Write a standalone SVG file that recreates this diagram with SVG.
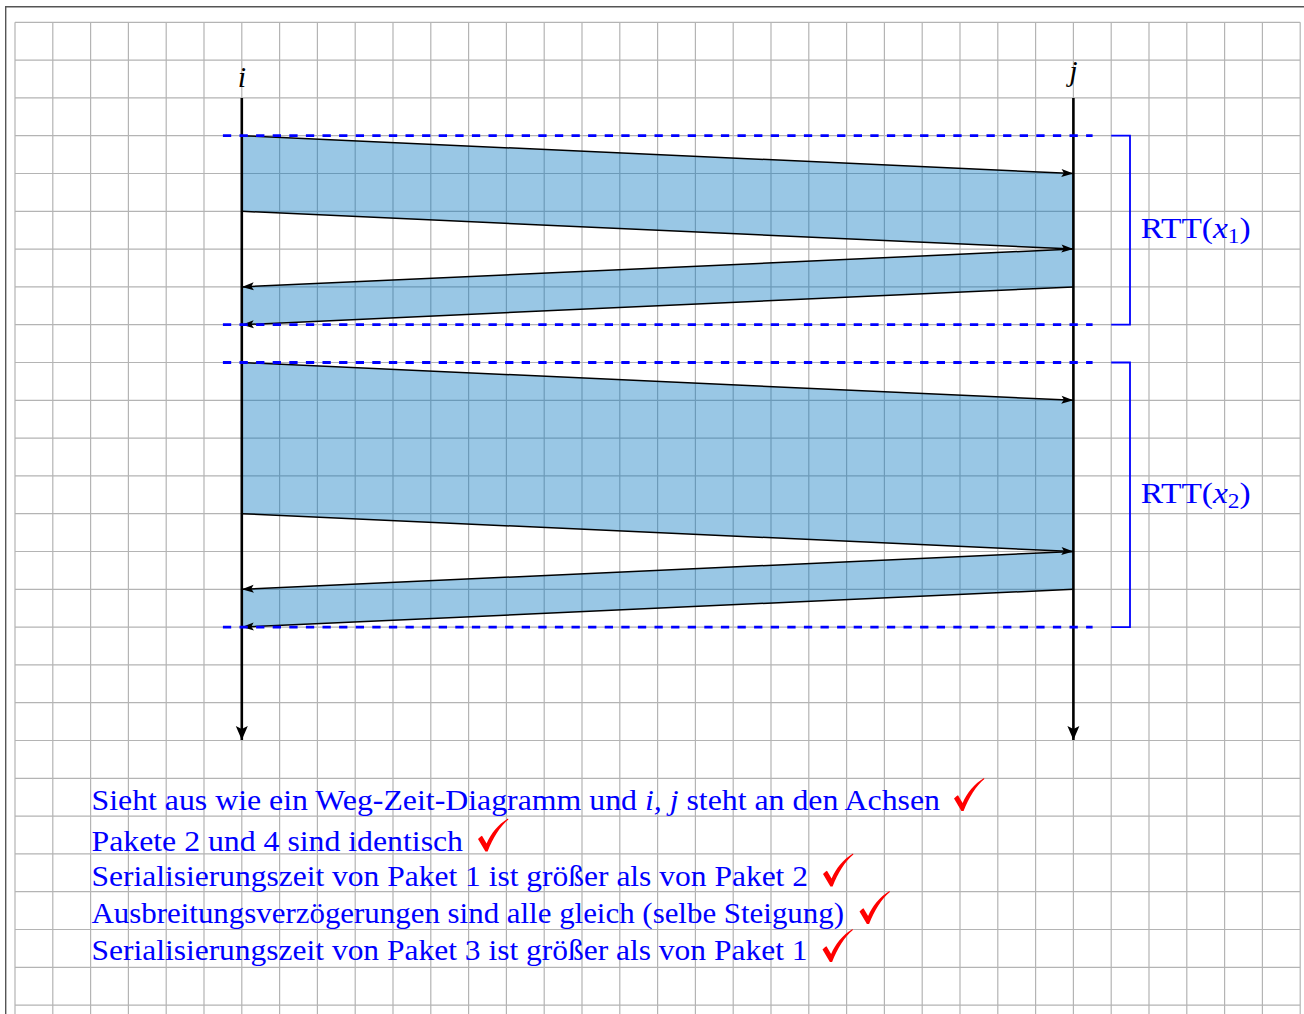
<svg xmlns="http://www.w3.org/2000/svg" width="1304" height="1014" viewBox="0 0 1304 1014">
<style>
.grid{stroke:#b4b4b4;stroke-width:1.2;fill:none}
.frame{stroke:#555;stroke-width:1.4;fill:none}
.pkt{fill:#0072bd;fill-opacity:0.4;stroke:none}
.msg{stroke:#000;stroke-width:1.5;fill:none;marker-end:url(#ah)}
.axis{stroke:#000;stroke-width:2.6;fill:none;marker-end:url(#axh)}
.dash{stroke:#0000ff;stroke-width:2.8;stroke-dasharray:8.3 8.3;fill:none}
.brk{stroke:#0000ff;stroke-width:1.8;fill:none}
.lbl{font-family:"Liberation Serif","DejaVu Serif",serif;font-size:30px;fill:#000}
.blue{font-family:"Liberation Serif","DejaVu Serif",serif;font-size:30px;fill:#0000ff}
.it{font-style:italic}
.chk{fill:#ff0000}
</style>
<defs>
<marker id="ah" markerUnits="userSpaceOnUse" markerWidth="14" markerHeight="10" refX="12" refY="4" orient="auto" overflow="visible">
<path d="M0,0 L12,4 L0,8 L2.5,4 Z" fill="#000"/>
</marker>
<marker id="axh" markerUnits="userSpaceOnUse" markerWidth="16" markerHeight="14" refX="14" refY="6" orient="auto" overflow="visible">
<path d="M0,0 L14,6 L0,12 L3,6 Z" fill="#000"/>
</marker>
<path id="chk" d="M0,20.5 C1.5,19 2.8,18 4,17.3 L8.6,25 C13,15 20,6 30,0 L30.4,0.9 C22,8 15,19 9.6,33 L7.4,33 Z"/>
</defs>
<rect x="0" y="0" width="1304" height="1014" fill="#fff"/>
<g id="frame">
<path class="frame" d="M5.7,1014 V6.7 H1304"/>
</g>
<g id="grid">
<path class="grid" d="M15,22.3V1014 M52.8,22.3V1014 M90.6,22.3V1014 M128.4,22.3V1014 M166.2,22.3V1014 M204,22.3V1014 M241.8,22.3V1014 M279.6,22.3V1014 M317.4,22.3V1014 M355.2,22.3V1014 M393,22.3V1014 M430.8,22.3V1014 M468.6,22.3V1014 M506.4,22.3V1014 M544.2,22.3V1014 M582,22.3V1014 M619.8,22.3V1014 M657.6,22.3V1014 M695.4,22.3V1014 M733.2,22.3V1014 M771,22.3V1014 M808.8,22.3V1014 M846.6,22.3V1014 M884.4,22.3V1014 M922.2,22.3V1014 M960,22.3V1014 M997.8,22.3V1014 M1035.6,22.3V1014 M1073.4,22.3V1014 M1111.2,22.3V1014 M1149,22.3V1014 M1186.8,22.3V1014 M1224.6,22.3V1014 M1262.4,22.3V1014 M1300.2,22.3V1014
M15,22.3H1300.2 M15,60.1H1300.2 M15,97.9H1300.2 M15,135.7H1300.2 M15,173.5H1300.2 M15,211.3H1300.2 M15,249.1H1300.2 M15,286.9H1300.2 M15,324.7H1300.2 M15,362.5H1300.2 M15,400.3H1300.2 M15,438.1H1300.2 M15,475.9H1300.2 M15,513.7H1300.2 M15,551.5H1300.2 M15,589.3H1300.2 M15,627.1H1300.2 M15,664.9H1300.2 M15,702.7H1300.2 M15,740.5H1300.2 M15,778.3H1300.2 M15,816.1H1300.2 M15,853.9H1300.2 M15,891.7H1300.2 M15,929.5H1300.2 M15,967.3H1300.2 M15,1005.1H1300.2"/>
</g>
<g id="packet1"><polygon class="pkt" points="241.8,135.7 1073.4,173.5 1073.4,249.1 241.8,211.3"/></g>
<g id="packet2"><polygon class="pkt" points="1073.4,249.1 241.8,286.9 241.8,324.7 1073.4,286.9"/></g>
<g id="packet3"><polygon class="pkt" points="241.8,362.5 1073.4,400.3 1073.4,551.5 241.8,513.7"/></g>
<g id="packet4"><polygon class="pkt" points="1073.4,551.5 241.8,589.3 241.8,627.1 1073.4,589.3"/></g>
<g id="axis-i">
<path class="axis" d="M241.8,97.9 V740"/>
<text class="lbl it" x="241.8" y="87" text-anchor="middle">i</text>
</g>
<g id="axis-j">
<path class="axis" d="M1073.4,97.9 V740"/>
<text class="lbl it" x="1073.4" y="80.5" text-anchor="middle">j</text>
</g>
<g id="connectors">
<path class="msg" d="M241.8,135.7 L1073.4,173.5"/>
<path class="msg" d="M241.8,211.3 L1073.4,249.1"/>
<path class="msg" d="M1073.4,249.1 L241.8,286.9"/>
<path class="msg" d="M1073.4,286.9 L241.8,324.7"/>
<path class="msg" d="M241.8,362.5 L1073.4,400.3"/>
<path class="msg" d="M241.8,513.7 L1073.4,551.5"/>
<path class="msg" d="M1073.4,551.5 L241.8,589.3"/>
<path class="msg" d="M1073.4,589.3 L241.8,627.1"/>
</g>
<g id="rtt-markers">
<path class="dash" d="M222.9,135.7 H1092.6"/>
<path class="dash" d="M222.9,324.7 H1092.6"/>
<path class="dash" d="M222.9,362.5 H1092.6"/>
<path class="dash" d="M222.9,627.1 H1092.6"/>
</g>
<g id="rtt1">
<path class="brk" d="M1111.2,135.7 H1130 V324.7 H1111.2"/>
<text class="blue" x="1140.7" y="237.5" textLength="110" lengthAdjust="spacingAndGlyphs">RTT(<tspan class="it">x</tspan><tspan font-size="21" dy="5">1</tspan><tspan dy="-5">)</tspan></text>
</g>
<g id="rtt2">
<path class="brk" d="M1111.2,362.5 H1130 V627.1 H1111.2"/>
<text class="blue" x="1140.7" y="503.3" textLength="110" lengthAdjust="spacingAndGlyphs">RTT(<tspan class="it">x</tspan><tspan font-size="21" dy="5">2</tspan><tspan dy="-5">)</tspan></text>
</g>
<g id="notes">
<text class="blue" x="91.5" y="810" textLength="848.5" lengthAdjust="spacingAndGlyphs">Sieht aus wie ein Weg-Zeit-Diagramm und <tspan class="it">i, j</tspan> steht an den Achsen</text>
<text class="blue" x="91.5" y="850.7" textLength="371.5" lengthAdjust="spacingAndGlyphs">Pakete 2 und 4 sind identisch</text>
<text class="blue" x="91.5" y="886" textLength="716.5" lengthAdjust="spacingAndGlyphs">Serialisierungszeit von Paket 1 ist größer als von Paket 2</text>
<text class="blue" x="91.5" y="923.3" textLength="752.5" lengthAdjust="spacingAndGlyphs">Ausbreitungsverzögerungen sind alle gleich (selbe Steigung)</text>
<text class="blue" x="91.5" y="960" textLength="716" lengthAdjust="spacingAndGlyphs">Serialisierungszeit von Paket 3 ist größer als von Paket 1</text>
</g>
<g id="checks" class="chk">
<use href="#chk" x="954" y="778"/>
<use href="#chk" x="478" y="818.5"/>
<use href="#chk" x="823" y="853.5"/>
<use href="#chk" x="859.5" y="891"/>
<use href="#chk" x="822.5" y="929"/>
</g>
</svg>
